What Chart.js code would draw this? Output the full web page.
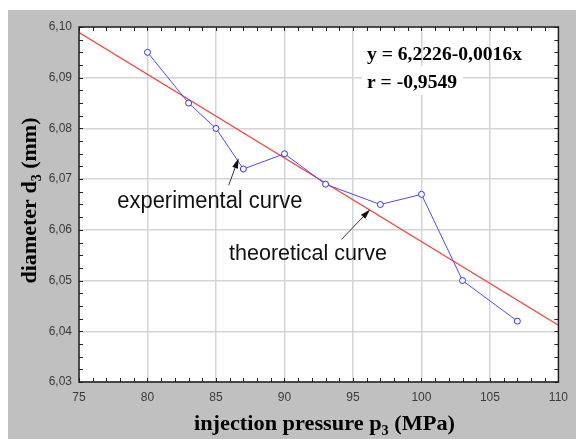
<!DOCTYPE html>
<html>
<head>
<meta charset="utf-8">
<script src="https://cdn.jsdelivr.net/npm/chart.js@4.4.0/dist/chart.umd.min.js"></script>
<style>
  html, body { margin: 0; padding: 0; background: #fff; }
  canvas { display: block; }
</style>
</head>
<body>
<canvas id="grafica" width="576" height="439"></canvas>
<script>
// Datos
const presion = [80, 83, 85, 87, 90, 93, 97, 100, 103, 107];
const diametro = [6.095, 6.085, 6.080, 6.072, 6.075, 6.069, 6.065, 6.067, 6.050, 6.042];

const rectaX = [75, 110];
const rectaY = [6.0989, 6.0412];

const ticksX = [75, 80, 85, 90, 95, 100, 105, 110];
const ticksY = [6.03, 6.04, 6.05, 6.06, 6.07, 6.08, 6.09, 6.10];

const ecuacion = "y = 6,2226-0,0016x";
const correlacion = "r = -0,9549";
const tituloX = ["injection pressure p", "3", " (MPa)"];
const tituloY = ["diameter d", "3", " (mm)"];

const SANS = '"Liberation Sans", Arial, sans-serif';
const SERIF = '"Liberation Serif", "Times New Roman", serif';

// Texto con ancho fijo (escala horizontal)
function texto(ctx, str, x, y, font, ancho) {
    ctx.save();
    ctx.font = font;
    const w = ctx.measureText(str).width;
    const k = ancho ? ancho / w : 1;
    ctx.translate(x, y);
    ctx.scale(k, 1);
    ctx.textAlign = "left";
    ctx.textBaseline = "alphabetic";
    ctx.fillText(str, 0, 0);
    ctx.restore();
}

// Título con subíndice, centrado en (cx, cy), opcionalmente girado
function titulo(ctx, partes, cx, cy, size, ancho, girar) {
    ctx.save();
    ctx.translate(cx, cy);
    if (girar) ctx.rotate(-Math.PI / 2);
    const fGrande = "bold " + size + "px " + SERIF;
    const fSub = "bold " + Math.round(size * 0.62) + "px " + SERIF;
    let total = 0;
    const anchos = partes.map((p, i) => {
        ctx.font = i === 1 ? fSub : fGrande;
        const w = ctx.measureText(p).width;
        total += w;
        return w;
    });
    const k = ancho / total;
    ctx.scale(k, 1);
    ctx.fillStyle = "#000";
    ctx.textBaseline = "alphabetic";
    let x = -total / 2;
    partes.forEach((p, i) => {
        ctx.font = i === 1 ? fSub : fGrande;
        ctx.fillText(p, x, i === 1 ? 5 : 0);
        x += anchos[i];
    });
    ctx.restore();
}

function flecha(ctx, x1, y1, x2, y2) {
    const ang = Math.atan2(y2 - y1, x2 - x1);
    ctx.save();
    ctx.strokeStyle = "#333";
    ctx.fillStyle = "#111";
    ctx.lineWidth = 1;
    ctx.beginPath();
    ctx.moveTo(x1, y1);
    ctx.lineTo(x2 - 6 * Math.cos(ang), y2 - 6 * Math.sin(ang));
    ctx.stroke();
    ctx.beginPath();
    ctx.moveTo(x2, y2);
    ctx.lineTo(x2 - 10 * Math.cos(ang) + 3 * Math.sin(ang), y2 - 10 * Math.sin(ang) - 3 * Math.cos(ang));
    ctx.lineTo(x2 - 10 * Math.cos(ang) - 3 * Math.sin(ang), y2 - 10 * Math.sin(ang) + 3 * Math.cos(ang));
    ctx.closePath();
    ctx.fill();
    ctx.restore();
}

const fondo = {
    id: "fondo",
    beforeDraw(chart) {
        const { ctx, chartArea: a } = chart;
        ctx.save();
        ctx.fillStyle = "#fff";
        ctx.fillRect(0, 0, chart.width, chart.height);
        ctx.fillStyle = "#c0c0c0";
        ctx.fillRect(8, 10, chart.width - 8, chart.height - 10);
        ctx.fillStyle = "#fff";
        ctx.fillRect(a.left, a.top, a.right - a.left, a.bottom - a.top);
        ctx.restore();
    },
    beforeDatasetsDraw(chart) {
        const { ctx, chartArea: a } = chart;
        // recuadro blanco detrás de r
        ctx.save();
        ctx.fillStyle = "#fff";
        ctx.fillRect(a.left + 283, a.top + 39, 101, 29);
        ctx.fillStyle = "#000";
        texto(ctx, ecuacion, a.left + 288, a.top + 33, "bold 18px " + SERIF, 155);
        texto(ctx, correlacion, a.left + 288, a.top + 61, "bold 18px " + SERIF, 90);
        ctx.restore();
    },
    afterDatasetsDraw(chart) {
        const { ctx, chartArea: a, scales } = chart;
        const sx = scales.x, sy = scales.y;
        ctx.save();
        // marcas menores hacia dentro
        ctx.strokeStyle = "#222";
        ctx.lineWidth = 1;
        ctx.beginPath();
        for (let i = 0; i <= 35; i++) {
            const px = Math.round(sx.getPixelForValue(75 + i)) + 0.5;
            ctx.moveTo(px, a.bottom); ctx.lineTo(px, a.bottom - 4);
            ctx.moveTo(px, a.top); ctx.lineTo(px, a.top + 4);
        }
        for (let i = 0; i <= 28; i++) {
            const py = Math.round(sy.getPixelForValue(6.03 + i * 0.0025)) + 0.5;
            ctx.moveTo(a.left, py); ctx.lineTo(a.left + 4, py);
            ctx.moveTo(a.right, py); ctx.lineTo(a.right - 4, py);
        }
        ctx.stroke();
        // marco
        ctx.strokeStyle = "#1a1a1a";
        ctx.lineWidth = 1.5;
        ctx.strokeRect(a.left, a.top, a.right - a.left, a.bottom - a.top);

        // anotaciones
        ctx.fillStyle = "#111";
        texto(ctx, "experimental curve", sx.getPixelForValue(77.8), sy.getPixelForValue(6.0643), "23px " + SANS, 185);
        texto(ctx, "theoretical curve", sx.getPixelForValue(85.95), sy.getPixelForValue(6.0540), "22px " + SANS, 158);
        flecha(ctx, sx.getPixelForValue(85.93), sy.getPixelForValue(6.0688), sx.getPixelForValue(86.65), sy.getPixelForValue(6.0741));
        flecha(ctx, sx.getPixelForValue(94.16), sy.getPixelForValue(6.0581), sx.getPixelForValue(96.25), sy.getPixelForValue(6.0640));

        // títulos de ejes
        titulo(ctx, tituloX, 324.5, 430, 22, 261, false);
        titulo(ctx, tituloY, 36, 200.5, 22, 166, true);
        ctx.restore();
    }
};

const ctx = document.getElementById("grafica").getContext("2d");

new Chart(ctx, {
    type: "scatter",
    data: {
        datasets: [
            {
                label: "experimental curve",
                data: presion.map((x, i) => ({ x: x, y: diametro[i] })),
                showLine: true,
                borderColor: "#4a4aff",
                borderWidth: 1,
                pointRadius: 3,
                pointBorderWidth: 1,
                pointBorderColor: "#3030ff",
                pointBackgroundColor: "#fff",
                order: 1
            },
            {
                label: "theoretical curve",
                data: rectaX.map((x, i) => ({ x: x, y: rectaY[i] })),
                showLine: true,
                borderColor: "#ff3a3a",
                borderWidth: 1.2,
                pointRadius: 0,
                order: 2
            }
        ]
    },
    options: {
        responsive: false,
        animation: false,
        events: [],
        layout: { padding: { top: 27, right: 7, left: 0, bottom: 0 } },
        plugins: { legend: { display: false }, tooltip: { enabled: false } },
        scales: {
            x: {
                type: "linear",
                min: 75,
                max: 110,
                afterBuildTicks: s => { s.ticks = ticksX.map(v => ({ value: v })); },
                afterFit: s => { s.height = 57; },
                grid: { color: "#d4d4d4", lineWidth: 1.5, drawTicks: false },
                border: { display: false },
                ticks: { padding: 8, color: "#3a3a3a", font: { family: SANS, size: 12 }, maxRotation: 0 }
            },
            y: {
                type: "linear",
                min: 6.03,
                max: 6.10,
                afterBuildTicks: s => { s.ticks = ticksY.map(v => ({ value: v })); },
                afterFit: s => { s.width = 79; },
                grid: { color: "#d4d4d4", lineWidth: 1.5, drawTicks: false },
                border: { display: false },
                ticks: {
                    padding: 7,
                    color: "#3a3a3a",
                    font: { family: SANS, size: 12 },
                    callback: v => v.toFixed(2).replace(".", ",")
                }
            }
        }
    },
    plugins: [fondo]
});
</script>
</body>
</html>
